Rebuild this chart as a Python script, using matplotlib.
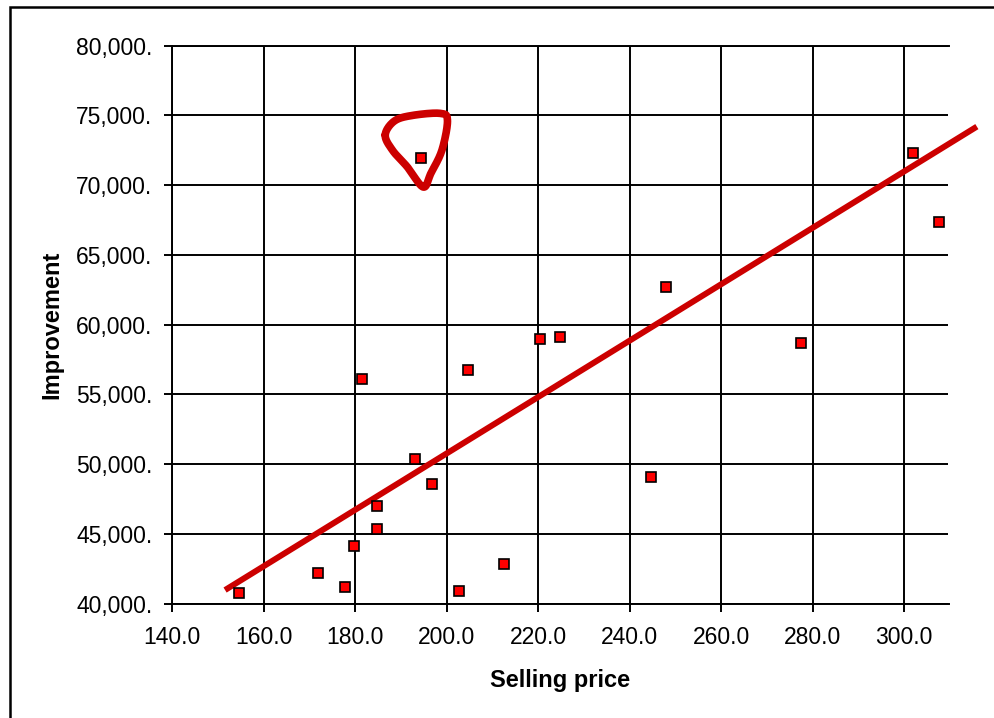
import numpy as np
import matplotlib
matplotlib.use("Agg")
import matplotlib.pyplot as plt
from matplotlib.patches import Rectangle
from matplotlib.ticker import FuncFormatter, MultipleLocator

plt.rcParams['font.family'] = ['Liberation Sans', 'DejaVu Sans']

# Data
selling_price = [154.6, 171.9, 177.7, 179.7, 184.8, 184.9, 181.6, 193.1, 196.8, 194.4,
                 202.7, 204.6, 212.6, 220.4, 224.8, 244.6, 247.9, 277.5, 302.0, 307.7]
improvement = [40770, 42180, 41180, 44140, 45330, 47030, 56110, 50390, 48560, 71930,
               40890, 56750, 42850, 58950, 59100, 49060, 62720, 58710, 72330, 67380]

# Trend line end points
trend_x = [151.6, 315.9]
trend_y = [40980, 74200]

# Hand-drawn highlight loop around the outlier (data coordinates)
loop_x = [186.6, 188.6, 192.5, 198.6, 200.2, 199.0, 196.6, 194.9, 191.4, 188.2]
loop_y = [73600, 74600, 75000, 75150, 74650, 72520, 70870, 69870, 71320, 72500]

xlim = (140, 309.7)
ylim = (40000, 80000)

W, H = 995, 718
fig = plt.figure(figsize=(W / 100, H / 100), dpi=100)
ax = fig.add_axes([172 / W, 1 - 603.7 / H, (948.5 - 172) / W, (603.7 - 45.7) / H])

ax.set_xlim(*xlim)
ax.set_ylim(*ylim)
ax.xaxis.set_major_locator(MultipleLocator(20))
ax.yaxis.set_major_locator(MultipleLocator(5000))
ax.xaxis.set_major_formatter(FuncFormatter(lambda v, p: f"{v:.1f}"))
ax.yaxis.set_major_formatter(FuncFormatter(lambda v, p: f"{v:,.0f}."))

ax.grid(True, color='black', linewidth=1.4)
ax.set_axisbelow(True)
for s in ['left', 'bottom', 'top']:
    ax.spines[s].set_linewidth(1.4)
    ax.spines[s].set_color('black')
ax.spines['right'].set_visible(False)
ax.tick_params(axis='both', direction='out', length=6, width=1.4, colors='black',
               labelsize=16.5)
ax.tick_params(axis='x', pad=10)
ax.tick_params(axis='y', pad=8)

# Scatter points
ax.plot(selling_price, improvement, linestyle='none', marker='s', markersize=6.5,
        markerfacecolor='#FF0000', markeredgecolor='black', markeredgewidth=1.2,
        zorder=4)

# Trend line
ax.plot(trend_x, trend_y, color='#CC0000', linewidth=4.3, clip_on=False, zorder=3,
        solid_capstyle='butt')

# Highlight loop: closed Catmull-Rom spline through loop points
def catmull_rom_closed(xs, ys, n=20):
    pts = np.column_stack([xs, ys])
    out = []
    m = len(pts)
    for i in range(m):
        p0, p1, p2, p3 = pts[(i - 1) % m], pts[i], pts[(i + 1) % m], pts[(i + 2) % m]
        t = np.linspace(0, 1, n, endpoint=False)[:, None]
        seg = 0.5 * ((2 * p1) + (-p0 + p2) * t + (2 * p0 - 5 * p1 + 4 * p2 - p3) * t ** 2
                     + (-p0 + 3 * p1 - 3 * p2 + p3) * t ** 3)
        out.append(seg)
    out = np.vstack(out)
    return np.vstack([out, out[:1]])

curve = catmull_rom_closed(loop_x, loop_y)
ax.plot(curve[:, 0], curve[:, 1], color='#CC0000', linewidth=5.5, zorder=3,
        solid_joinstyle='round', solid_capstyle='round')

# Axis labels
ax.set_xlabel('Selling price', fontsize=17, fontweight='bold', ha='center', va='center')
ax.xaxis.set_label_coords(0.5, (603.7 - 680) / 558.0)
ax.set_ylabel('Improvement', fontsize=17, fontweight='bold', ha='center', va='center')
ax.yaxis.set_label_coords((52 - 172) / 776.5, 0.5)

# Outer frame
fig.patches.append(Rectangle((10 / W, -0.1), 1.2, 1.1 - 6.5 / H,
                             transform=fig.transFigure, fill=False,
                             edgecolor='black', linewidth=1.8, clip_on=False))

fig.savefig('out.png', dpi=100)
